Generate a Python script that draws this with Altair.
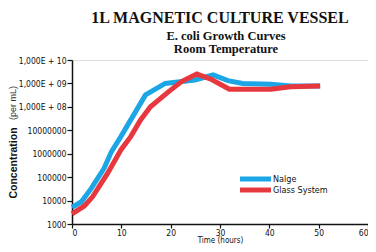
import altair as alt
import pandas as pd

# ---- data ----
nalge_time = [0, 1.9, 3.9, 6.5, 8.0, 9.9, 14.9, 18.9, 24.9, 28.6, 31.6, 34.6, 40.3, 44.3, 50.3]
nalge_log = [3.71, 3.95, 4.52, 5.38, 6.09, 6.73, 8.51, 9.0, 9.15, 9.36, 9.12, 9.0, 8.96, 8.89, 8.89]
glass_time = [0, 2.5, 4.2, 7.2, 9.9, 11.9, 13.9, 15.9, 19.6, 22.2, 25.3, 28.3, 31.9, 40.3, 44.3, 50.3]
glass_log = [3.43, 3.77, 4.17, 5.16, 6.16, 6.73, 7.44, 8.0, 8.65, 9.08, 9.4, 9.17, 8.75, 8.75, 8.86, 8.89]

series_names = ["Nalge", "Glass System"]
series_colors = ["#1ca6e6", "#e8383f"]

y_tick_values = [1e3, 1e4, 1e5, 1e6, 1e7, 1e8, 1e9, 1e10]
y_tick_labels = ["1000", "10000", "100000", "1000000", "10000000",
                 "1,000E + 08", "1,000E + 09", "1,000E + 10"]
x_tick_values = [0, 10, 20, 30, 40, 50, 60]

title_lines = ["1L MAGNETIC CULTURE VESSEL", "E. coli Growth Curves", "Room Temperature"]

rows = []
for t, v in zip(nalge_time, nalge_log):
    rows.append({"series": series_names[0], "time": t, "conc": 10 ** v, "order": 1})
for t, v in zip(glass_time, glass_log):
    rows.append({"series": series_names[1], "time": t, "conc": 10 ** v, "order": 0})
df = pd.DataFrame(rows)

label_expr = " : ".join(
    f"datum.value == {v:g} ? '{l}'" for v, l in zip(y_tick_values, y_tick_labels)
) + " : ''"

axis_font = "Liberation Sans Narrow, DejaVu Sans Condensed, sans-serif"
W, H = 296, 164

x_enc = alt.X("time:Q", scale=alt.Scale(domain=[0, 60], nice=False),
              axis=alt.Axis(values=x_tick_values, title="Time (hours)", grid=False,
                            labelFont=axis_font, labelFontSize=8.5, titleFont=axis_font,
                            titleFontSize=8, titleFontWeight="normal", tickSize=4,
                            labelPadding=0, titlePadding=0, domainColor="#111",
                            tickColor="#111", labelColor="#111", titleColor="#111",
                            domainWidth=1.5, tickWidth=1.2))
y_enc = alt.Y("conc:Q", scale=alt.Scale(type="log", domain=[1e3, 1e10], nice=False),
              axis=alt.Axis(values=y_tick_values, labelExpr=label_expr, title=None,
                            grid=False, labelFont=axis_font, labelFontSize=8.5, tickSize=5,
                            labelPadding=1, domainColor="#111", tickColor="#111",
                            labelColor="#111", domainWidth=1.5, tickWidth=1.2))

color_scale = alt.Scale(domain=series_names, range=series_colors)

lines = alt.Chart(df).mark_line(strokeWidth=5, strokeCap="butt", strokeJoin="miter").encode(
    x=x_enc, y=y_enc,
    color=alt.Color("series:N", scale=color_scale, legend=None),
    order=alt.Order("order:Q"),
    detail="series:N",
)

# manual legend (line swatch + label)
leg_layers = []
for i, (name, col) in enumerate(zip(series_names, series_colors)):
    yy = 119 + i * 11
    leg_layers.append(alt.Chart().mark_rule(strokeWidth=5, color=col).encode(
        x=alt.value(168), x2=alt.value(199), y=alt.value(yy)))
    leg_layers.append(alt.Chart().mark_text(align="left", baseline="middle", font=axis_font,
                                            fontSize=9, color="#111").encode(
        x=alt.value(201), y=alt.value(yy), text=alt.value(name)))

# titles
title_layers = [
    alt.Chart().mark_text(font="Liberation Serif", fontWeight="bold", fontSize=16,
                          align="center", baseline="alphabetic", color="#111").encode(
        x=alt.value(148), y=alt.value(-37), text=alt.value(title_lines[0])),
    alt.Chart().mark_text(font="Liberation Serif", fontWeight="bold", fontSize=12.5,
                          align="center", baseline="alphabetic", color="#111").encode(
        x=alt.value(154), y=alt.value(-20), text=alt.value(title_lines[1])),
    alt.Chart().mark_text(font="Liberation Serif", fontWeight="bold", fontSize=12.5,
                          align="center", baseline="alphabetic", color="#111").encode(
        x=alt.value(154), y=alt.value(-7), text=alt.value(title_lines[2])),
]

# y-axis title in two styles
ytitle = [
    alt.Chart().mark_text(font="Liberation Sans", fontWeight="bold", fontSize=10.5, angle=270,
                          align="center", baseline="middle", color="#111").encode(
        x=alt.value(-58), y=alt.value(103), text=alt.value("Concentration")),
    alt.Chart().mark_text(font="Liberation Sans", fontSize=9, angle=270, align="center",
                          baseline="middle", color="#333").encode(
        x=alt.value(-59), y=alt.value(43), text=alt.value("(per mL)")),
]

chart = alt.layer(lines, *leg_layers, *title_layers, *ytitle).properties(
    width=W, height=H,
    autosize=alt.AutoSizeParams(type="none"),
    padding={"left": 64, "top": 52, "right": 0, "bottom": 20},
).configure_view(stroke="#111", strokeWidth=1.2).configure(background="white")

chart.save("out.html", embed_options={"renderer": "svg", "actions": False})
